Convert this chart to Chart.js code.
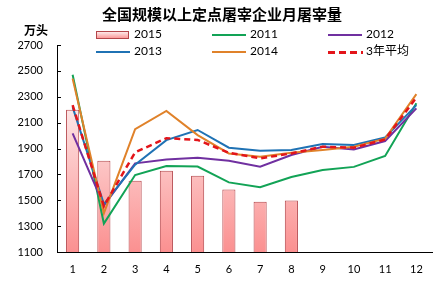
<!DOCTYPE html>
<html>
<head>
<meta charset="utf-8">
<script src="https://cdn.jsdelivr.net/npm/chart.js@4.4.1/dist/chart.umd.min.js"></script>
<style>
  body{margin:0;background:#fff;}
  #wrap{position:relative;width:448px;height:284px;overflow:hidden;}
  #title{position:absolute;left:0;width:444px;top:3px;text-align:center;font:bold 15px "Noto Sans CJK SC";color:#000;}
  #unit{position:absolute;left:24px;top:21px;font:bold 12px "Noto Sans CJK SC";color:#000;}
  .lg{position:absolute;font:12px Lato,"Noto Sans CJK SC";color:#000;line-height:14px;}
  .mk{position:absolute;}
</style>
</head>
<body>
<div id="wrap">
  <canvas id="c" width="448" height="284"></canvas>
  <div id="title">全国规模以上定点屠宰企业月屠宰量</div>
  <div id="unit">万头</div>
</div>
<script>
const months = ['1','2','3','4','5','6','7','8','9','10','11','12'];
const yTicks = [1100,1300,1500,1700,1900,2100,2300,2500,2700];
const v2015 = [2200,1805,1650,1728,1690,1584,1488,1498,null,null,null,null];
const v2011 = [2470,1320,1695,1765,1760,1638,1600,1680,1733,1758,1842,2250];
const v2012 = [2017,1460,1785,1815,1828,1805,1760,1850,1914,1893,1958,2210];
const v2013 = [2220,1470,1775,1965,2043,1906,1883,1888,1935,1927,1986,2235];
const v2014 = [2440,1400,2050,2190,2004,1862,1836,1867,1888,1914,1976,2320];
const vAvg  = [2235,1455,1870,1980,1966,1867,1824,1862,1914,1906,1970,2295];

const cGreen='#12a356', cPurple='#7030a0', cBlue='#1f72b4', cOrange='#e0822a', cRed='#e3151a';

function line(label,data,color,dash,order){
  return {type:'line',label:label,data:data,borderColor:color,backgroundColor:color,
    borderWidth:dash?2.5:2,borderDash:dash||[],pointRadius:0,tension:0,order:order};
}

// little ticks pointing into the plot on the y axis
const innerTicks = {
  id:'innerTicks',
  afterDraw(chart){
    const ctx=chart.ctx, y=chart.scales.y, a=chart.chartArea;
    ctx.save();
    ctx.strokeStyle='#000';ctx.lineWidth=1;
    yTicks.forEach(t=>{
      const py=Math.round(y.getPixelForValue(t))+0.5;
      ctx.beginPath();ctx.moveTo(a.left,py);ctx.lineTo(a.left+4,py);ctx.stroke();
    });
    ctx.restore();
  }
};

const chart = new Chart(document.getElementById('c'),{
  data:{
    labels:months,
    datasets:[
      {type:'bar',label:'2015',data:v2015,order:5,
        borderColor:'#b4454a',borderWidth:1,barPercentage:0.42,categoryPercentage:1,
        backgroundColor:(ctx)=>{
          const a=ctx.chart.chartArea;
          if(!a) return '#fbb';
          const g=ctx.chart.ctx.createLinearGradient(0,a.top+60,0,a.bottom);
          g.addColorStop(0,'#fde8e8');
          g.addColorStop(1,'#fb9090');
          return g;
        }},
      line('2011',v2011,cGreen,null,4),
      line('2012',v2012,cPurple,null,3),
      line('2013',v2013,cBlue,null,2),
      line('2014',v2014,cOrange,null,1),
      line('3年平均',vAvg,cRed,[6,4],0)
    ]
  },
  options:{
    responsive:false,animation:false,
    layout:{padding:{left:0,right:16,top:45,bottom:0}},
    plugins:{legend:{display:false},title:{display:false},tooltip:{enabled:false}},
    scales:{
      x:{offset:true,
        grid:{display:false,drawTicks:false},
        border:{display:true,color:'#000',width:1},
        ticks:{padding:11,color:'#000',font:{family:'Lato',size:11}},
        afterFit:(s)=>{s.height=32;}},
      y:{min:1100,max:2700,
        afterBuildTicks:(s)=>{s.ticks=yTicks.map(v=>({value:v}));},
        grid:{display:false,drawTicks:false},
        border:{display:true,color:'#000',width:1},
        ticks:{padding:14,color:'#000',font:{family:'Lato',size:11},callback:(v)=>String(v)},
        afterFit:(s)=>{s.width=57;}}
    }
  },
  plugins:[innerTicks]
});

// legend in three columns like the original
const wrap=document.getElementById('wrap');
const legendItems=[
  {t:'2015',x:96,y:35,kind:'box'},
  {t:'2011',x:212,y:35,c:cGreen},
  {t:'2012',x:328,y:35,c:cPurple},
  {t:'2013',x:96,y:52,c:cBlue},
  {t:'2014',x:212,y:52,c:cOrange},
  {t:'3年平均',x:328,y:52,c:cRed,dash:true}
];
legendItems.forEach(it=>{
  const m=document.createElement('div');
  m.className='mk';
  if(it.kind=='box'){
    m.style.cssText=`left:${it.x}px;top:${it.y-4}px;width:31px;height:6px;border:1px solid #b4454a;background:linear-gradient(#fde8e8,#fb9a9a);`;
  }else if(it.dash){
    m.style.cssText=`left:${it.x}px;top:${it.y-1}px;width:35px;height:3px;background:repeating-linear-gradient(90deg,${it.c} 0 7px,transparent 7px 11px);`;
  }else{
    m.style.cssText=`left:${it.x}px;top:${it.y-1}px;width:34px;height:2px;background:${it.c};`;
  }
  const s=document.createElement('div');
  s.className='lg';
  s.textContent=it.t;
  s.style.left=(it.x+38)+'px';
  s.style.top=(it.y-8)+'px';
  wrap.append(m,s);
});
</script>
</body>
</html>
